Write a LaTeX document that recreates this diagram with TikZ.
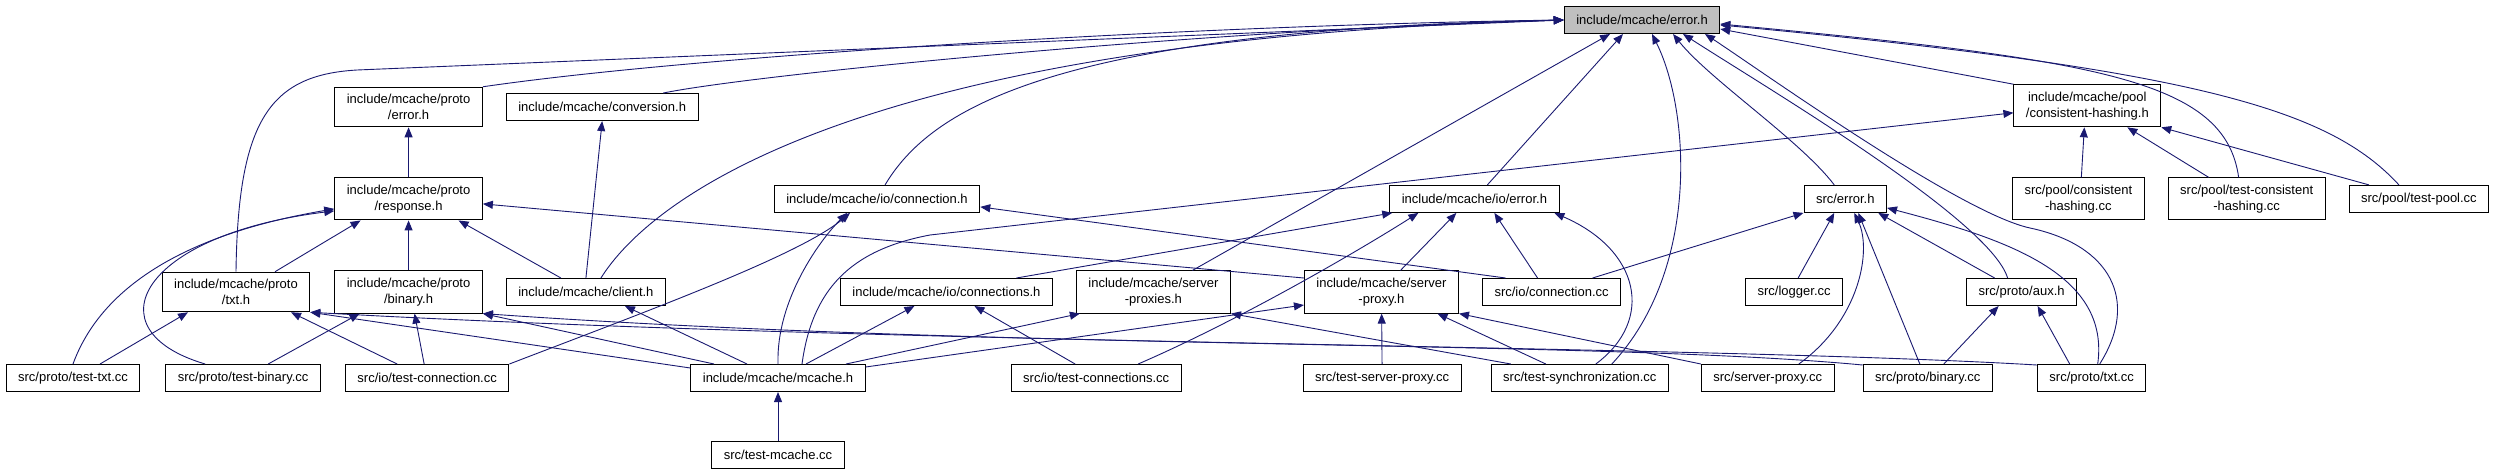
\documentclass[tikz,border=0pt]{standalone}
\usepackage{fontspec}
\setmainfont{Liberation Sans}
\usetikzlibrary{positioning, arrows.meta}
\definecolor{edgeblue}{RGB}{25, 25, 112}
\definecolor{rootgray}{RGB}{191, 191, 191}

\begin{document}
\begin{tikzpicture}[
    x=1pt, y=-1pt,
    file/.style={rectangle, draw=black, fill=white, line width=1pt, inner xsep=12pt, inner ysep=7pt, minimum height=27pt, align=center, font=\fontsize{13}{16}\selectfont},
    root/.style={file, fill=rootgray},
    dep/.style={edgeblue, line width=0.9pt, -{Triangle[length=10pt, width=8pt]}}
]
    \useasboundingbox (0,0) rectangle (2493,475);

    % Root header
    \node[root] (errh) at (1642,20) {include/mcache/error.h};

    % Bottom row: sources and tests
    \node[file] (testtxt) at (73,378) {src/proto/test-txt.cc};
    \node[file, right=25pt of testtxt] (testbin) {src/proto/test-binary.cc};
    \node[file, right=24pt of testbin] (testconn) {src/io/test-connection.cc};
    \node[file, right=181pt of testconn] (mcacheh) {include/mcache/mcache.h};
    \node[file, right=145pt of mcacheh] (testconns) {src/io/test-connections.cc};
    \node[file, right=121pt of testconns] (testsproxy) {src/test-server-proxy.cc};
    \node[file, right=29pt of testsproxy] (testsync) {src/test-synchronization.cc};
    \node[file, right=32pt of testsync] (sproxycc) {src/server-proxy.cc};
    \node[file, right=28pt of sproxycc] (bincc) {src/proto/binary.cc};
    \node[file, right=44pt of bincc] (txtcc) {src/proto/txt.cc};
    \node[file, below=49pt of mcacheh] (testmcache) {src/test-mcache.cc};

    % Middle headers
    \node[file] (txth) at (236,292) {include/mcache/proto\\/txt.h};
    \node[file, right=24pt of txth] (binh) {include/mcache/proto\\/binary.h};
    \node[file, right=23pt of binh] (clienth) {include/mcache/client.h};
    \node[file, right=174pt of clienth] (connsh) {include/mcache/io/connections.h};
    \node[file, right=23pt of connsh] (proxiesh) {include/mcache/server\\-proxies.h};
    \node[file, right=73pt of proxiesh] (proxyh) {include/mcache/server\\-proxy.h};
    \node[file, right=23pt of proxyh] (ioconncc) {src/io/connection.cc};
    \node[file, right=124pt of ioconncc] (logger) {src/logger.cc};
    \node[file, right=123pt of logger] (auxh) {src/proto/aux.h};

    % Upper headers
    \node[file, above=50pt of binh] (resp) {include/mcache/proto\\/response.h};
    \node[file, right=291pt of resp] (ioconnh) {include/mcache/io/connection.h};
    \node[file, right=409pt of ioconnh] (ioerr) {include/mcache/io/error.h};
    \node[file, right=244pt of ioerr] (srcerr) {src/error.h};
    \node[file, right=125pt of srcerr] (chashcc) {src/pool/consistent\\-hashing.cc};
    \node[file, right=23pt of chashcc] (tchashcc) {src/pool/test-consistent\\-hashing.cc};
    \node[file, right=23pt of tchashcc] (tpool) {src/pool/test-pool.cc};
    \node[file, above=50pt of resp] (proterr) {include/mcache/proto\\/error.h};
    \node[file, right=23pt of proterr] (conv) {include/mcache/conversion.h};
    \node[file, above=50pt of chashcc, xshift=9pt] (chash) {include/mcache/pool\\/consistent-hashing.h};

    % Includes of error.h
    \draw[dep] (proterr.north east) .. controls (700,55) and (1200,25) .. (errh.west);
    \draw[dep] ([xshift=61pt]conv.north) .. controls (750,75) and (1200,30) .. (errh.west);
    \draw[dep] (txth.north) .. controls (238,120) and (270,75) .. (357,70) -- (errh.west);
    \draw[dep] ([xshift=15pt]clienth.north) .. controls (650,200) and (850,40) .. (errh.west);
    \draw[dep] ([xshift=8pt]ioconnh.north) .. controls (930,110) and (1050,30) .. (errh.west);
    \draw[dep] ([xshift=39pt]proxiesh.north) -- ([xshift=-32pt]errh.south);
    \draw[dep] ([xshift=13pt]ioerr.north) -- ([xshift=-19pt]errh.south);
    \draw[dep] ([xshift=32pt]testsync.north) .. controls (1700,270) and (1690,110) .. ([xshift=10pt]errh.south);
    \draw[dep] ([xshift=-11pt]srcerr.north) .. controls (1800,140) and (1710,80) .. ([xshift=31pt]errh.south);
    \draw[dep] ([xshift=-14pt]auxh.north) .. controls (1990,220) and (1770,90) .. ([xshift=41pt]errh.south);
    \draw[dep] ([xshift=8pt]txtcc.north) .. controls (2140,300) and (2110,245) .. (2030,228) .. controls (1960,213) and (1760,70) .. ([xshift=63pt]errh.south);
    \draw[dep] (chash.north west) -- ([yshift=-9pt]errh.east);
    \draw[dep] ([xshift=-8pt]tchashcc.north) .. controls (2225,80) and (2100,60) .. ([yshift=-4pt]errh.east);
    \draw[dep] ([xshift=-20pt]tpool.north) .. controls (2330,110) and (2200,70) .. ([yshift=-5pt]errh.east);

    % proto headers
    \draw[dep] ([xshift=39pt]txth.north) -- ([xshift=-48pt]resp.south);
    \draw[dep] (binh.north) -- (resp.south);
    \draw[dep] ([xshift=-25pt]clienth.north) -- ([xshift=50pt]resp.south);
    \draw[dep] (testtxt.north) .. controls (100,290) and (180,235) .. ([yshift=-10pt]resp.west);
    \draw[dep] ([xshift=-38pt]testbin.north) .. controls (90,330) and (140,235) .. ([yshift=-12pt]resp.west);
    \draw[dep] ([yshift=14pt]proxyh.west) -- ([yshift=-5pt]resp.east);
    \draw[dep] (resp) -- (proterr);
    \draw[dep] (clienth.north) -- (conv.south);
    \draw[dep] ([xshift=27pt]testtxt.north) -- ([xshift=-48pt]txth.south);
    \draw[dep] ([xshift=-30pt]testconn.north) -- ([xshift=55pt]txth.south);
    \draw[dep] ([yshift=10pt]mcacheh.west) -- (txth.south east);
    \draw[dep] ([yshift=13pt]txtcc.west) .. controls (1700,345) and (900,345) .. (txth.south east);
    \draw[dep] ([xshift=25pt]testbin.north) -- ([xshift=-49pt]binh.south);
    \draw[dep] ([xshift=-3pt]testconn.north) -- ([xshift=6pt]binh.south);
    \draw[dep] ([xshift=-64pt]mcacheh.north) -- (binh.south east);
    \draw[dep] ([yshift=13pt]bincc.west) .. controls (1600,340) and (1000,350) .. (binh.south east);

    % io headers
    \draw[dep] (mcacheh.north) .. controls (776,300) and (820,240) .. ([xshift=-30pt]ioconnh.south);
    \draw[dep] (testconn.north east) .. controls (650,310) and (800,255) .. ([xshift=-27pt]ioconnh.south);
    \draw[dep] ([xshift=-46pt]ioconncc.north) -- ([yshift=-8pt]ioconnh.east);
    \draw[dep] ([xshift=70pt]connsh.north) -- ([xshift=3pt]ioerr.south west);
    \draw[dep] ([xshift=42pt]testconns.north) .. controls (1240,320) and (1360,250) .. ([xshift=-56pt]ioerr.south);
    \draw[dep] ([xshift=19pt]proxyh.north) -- ([xshift=-18pt]ioerr.south);
    \draw[dep] ([xshift=-14pt]ioconncc.north) -- ([xshift=20pt]ioerr.south);
    \draw[dep] ([xshift=16pt]testsync.north) .. controls (1655,320) and (1640,250) .. ([xshift=80pt]ioerr.south);
    \draw[dep] ([xshift=28pt]mcacheh.north) -- ([xshift=-32pt]connsh.south);
    \draw[dep] ([xshift=-21pt]testconns.north) -- ([xshift=28pt]connsh.south);

    % pool headers
    \draw[dep] ([xshift=24pt]mcacheh.north) .. controls (812,290) and (850,250) .. (930,235) -- ([yshift=-7pt]chash.west);
    \draw[dep] ([xshift=3pt]chashcc.north) -- ([xshift=-3pt]chash.south);
    \draw[dep] ([xshift=-38pt]tchashcc.north) -- ([xshift=40pt]chash.south);
    \draw[dep] ([xshift=-50pt]tpool.north) -- (chash.south east);

    % src/error.h and aux.h
    \draw[dep] ([xshift=41pt]ioconncc.north) -- (srcerr.south west);
    \draw[dep] ([xshift=4pt]logger.north) -- ([xshift=-11pt]srcerr.south);
    \draw[dep] ([xshift=31pt]sproxycc.north) .. controls (1860,320) and (1872,250) .. ([xshift=9pt]srcerr.south);
    \draw[dep] ([xshift=-8pt]bincc.north) -- ([xshift=13pt]srcerr.south);
    \draw[dep] ([xshift=-27pt]auxh.north) -- ([xshift=33pt]srcerr.south);
    \draw[dep] ([xshift=6pt]txtcc.north) .. controls (2110,275) and (2010,240) .. ([yshift=-9pt]srcerr.east);
    \draw[dep] ([xshift=16pt]bincc.north) -- ([xshift=-23pt]auxh.south);
    \draw[dep] ([xshift=-22pt]txtcc.north) -- ([xshift=16pt]auxh.south);

    % client, mcache and server headers
    \draw[dep] ([xshift=-31pt]mcacheh.north) -- ([xshift=39pt]clienth.south);
    \draw[dep] (testmcache) -- (mcacheh);
    \draw[dep] ([xshift=68pt]mcacheh.north) -- ([xshift=4pt]proxiesh.south west);
    \draw[dep] ([xshift=-69pt]testsync.north) -- (proxiesh.south east);
    \draw[dep] ([yshift=11pt]mcacheh.east) -- ([yshift=-13pt]proxyh.west);
    \draw[dep] (testsproxy) -- (proxyh);
    \draw[dep] ([xshift=-34pt]testsync.north) -- ([xshift=56pt]proxyh.south);
    \draw[dep] (sproxycc.north west) -- (proxyh.south east);

\end{tikzpicture}
\end{document}
